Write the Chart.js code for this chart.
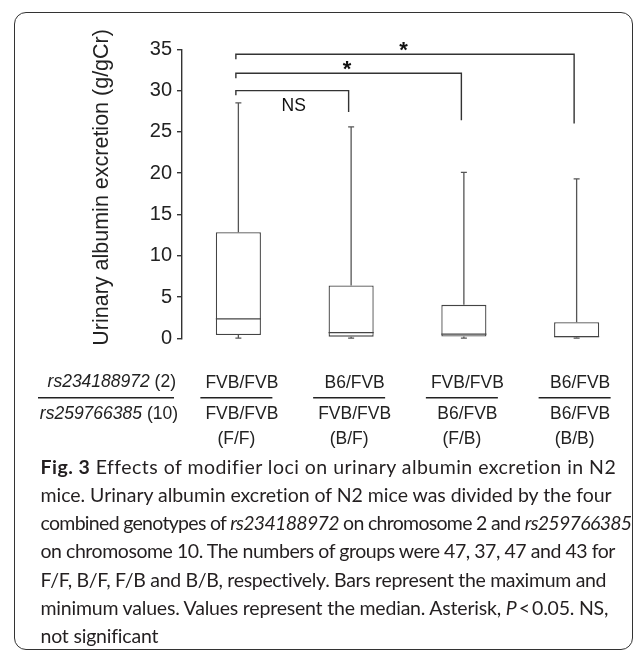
<!DOCTYPE html>
<html><head><meta charset="utf-8">
<script src="https://cdn.jsdelivr.net/npm/chart.js@4"></script>
<style>
html,body{margin:0;padding:0;background:#fff;width:633px;height:651px;overflow:hidden;}
#frame{position:absolute;left:14px;top:12px;width:619px;height:638px;border:1.5px solid #333;border-radius:12px;box-sizing:border-box;}
#c{position:absolute;left:0;top:0;}
#caption{position:absolute;left:40.5px;top:452.5px;font-family:Lato,"Open Sans",sans-serif;color:#231f20;line-height:28.3px;white-space:nowrap;font-size:19.5px;}
#caption div span{display:inline-block;}
</style></head><body>
<div id="frame"></div>
<canvas id="c" width="633" height="460"></canvas>
<div id="caption">
<div><span><b>Fig. 3</b> Effects of modifier loci on urinary albumin excretion in N2</span></div>
<div><span>mice. Urinary albumin excretion of N2 mice was divided by the four</span></div>
<div><span>combined genotypes of <i>rs234188972</i> on chromosome 2 and <i>rs259766385</i></span></div>
<div><span>on chromosome 10. The numbers of groups were 47, 37, 47 and 43 for</span></div>
<div><span>F/F, B/F, F/B and B/B, respectively. Bars represent the maximum and</span></div>
<div><span>minimum values. Values represent the median. Asterisk, <i>P</i>&thinsp;&lt;&thinsp;0.05. NS,</span></div>
<div><span>not significant</span></div>
</div>
<script>
// ---- data ----
const categories = ['F/F', 'B/F', 'F/B', 'B/B'];
const row1Labels = ['FVB/FVB', 'B6/FVB', 'FVB/FVB', 'B6/FVB'];
const row2Labels = ['FVB/FVB', 'FVB/FVB', 'B6/FVB', 'B6/FVB'];
const row3Labels = ['(F/F)', '(B/F)', '(F/B)', '(B/B)'];
const maxValues = [28.5, 25.6, 20.1, 19.3];
const q3Values = [12.85, 6.4, 4.05, 1.95];
const medianValues = [2.35, 0.68, 0.5, 0.2];
const q1Values = [0.4, 0.2, 0.22, 0.12];
const minValues = [0.03, 0.02, 0.02, 0.02];
const yTicks = [0, 5, 10, 15, 20, 25, 30, 35];
const bracketTo = [1, 2, 3];
const bracketLevel = [30, 32.1, 34.4];
const bracketLeftDrop = [29.45, 31.5, 33.8];
const bracketRightDrop = [27.4, 26.4, 26.0];
const bracketText = ['NS', '*', '*'];
const rowName1 = ['rs234188972', ' (2)'];
const rowName2 = ['rs259766385', ' (10)'];
const yTitle = 'Urinary albumin excretion (g/gCr)';

const FONT = '"Liberation Sans", Arial, Helvetica, sans-serif';
const INK = '#222';

const boxPlugin = {
  id: 'boxExtras',
  afterDatasetsDraw(chart) {
    const {ctx, scales: {x, y}} = chart;
    ctx.save();
    ctx.lineWidth = 1.3;
    const meta = chart.getDatasetMeta(0);
    categories.forEach((c, i) => {
      const cx = x.getPixelForValue(i);
      const half = meta.data[i].width / 2;
      ctx.strokeStyle = '#444';
      ctx.beginPath();
      ctx.moveTo(cx - half, y.getPixelForValue(medianValues[i]));
      ctx.lineTo(cx + half, y.getPixelForValue(medianValues[i]));
      ctx.stroke();
      ctx.strokeStyle = '#555';
      ctx.beginPath();
      ctx.moveTo(cx, y.getPixelForValue(q3Values[i]));
      ctx.lineTo(cx, y.getPixelForValue(maxValues[i]));
      ctx.moveTo(cx - 3, y.getPixelForValue(maxValues[i]));
      ctx.lineTo(cx + 3, y.getPixelForValue(maxValues[i]));
      ctx.moveTo(cx, y.getPixelForValue(q1Values[i]));
      ctx.lineTo(cx, y.getPixelForValue(minValues[i]));
      ctx.moveTo(cx - 3, y.getPixelForValue(minValues[i]));
      ctx.lineTo(cx + 3, y.getPixelForValue(minValues[i]));
      ctx.stroke();
    });
    ctx.restore();
  },
  afterDraw(chart) {
    const {ctx, scales: {x, y}} = chart;
    ctx.save();
    ctx.strokeStyle = '#333';
    ctx.lineWidth = 1.4;
    const x0 = x.getPixelForValue(0) - 2.5;
    bracketTo.forEach((to, k) => {
      const x1 = x.getPixelForValue(to) - 2.5;
      const yl = y.getPixelForValue(bracketLevel[k]);
      ctx.beginPath();
      ctx.moveTo(x0, y.getPixelForValue(bracketLeftDrop[k]));
      ctx.lineTo(x0, yl);
      ctx.lineTo(x1, yl);
      ctx.lineTo(x1, y.getPixelForValue(bracketRightDrop[k]));
      ctx.stroke();
      const mx = (x0 + x1) / 2;
      ctx.fillStyle = '#111';
      ctx.textAlign = 'center';
      if (bracketText[k] === 'NS') {
        ctx.font = '17.5px ' + FONT;
        ctx.textBaseline = 'middle';
        ctx.fillText(bracketText[k], mx + 1.5, yl + 16);
      } else {
        ctx.font = 'bold 22px ' + FONT;
        ctx.textBaseline = 'alphabetic';
        ctx.fillText(bracketText[k], mx - 1.5, yl - 10 + 0.6 * 22);
      }
    });
    ctx.fillStyle = INK;
    ctx.strokeStyle = '#222';
    ctx.lineWidth = 1.5;
    ctx.font = '17.5px ' + FONT;
    ctx.textBaseline = 'middle';
    ctx.textAlign = 'center';
    categories.forEach((c, i) => {
      const cx = x.getPixelForValue(i);
      ctx.fillText(row1Labels[i], cx + 3.5, 383);
      ctx.fillText(row2Labels[i], cx + 3.5, 414.5);
      ctx.fillText(row3Labels[i], cx - 2, 439.5);
      ctx.beginPath();
      ctx.moveTo(cx - 2 - 36, 397.7);
      ctx.lineTo(cx - 2 + 36, 397.7);
      ctx.stroke();
    });
    const drawRow = (parts, right, yy) => {
      ctx.textAlign = 'left';
      ctx.font = '17.5px ' + FONT;
      const w2 = ctx.measureText(parts[1]).width;
      ctx.font = 'italic 17.5px ' + FONT;
      const w1 = ctx.measureText(parts[0]).width;
      const start = right - w1 - w2;
      ctx.fillText(parts[0], start, yy);
      ctx.font = '17.5px ' + FONT;
      ctx.fillText(parts[1], start + w1, yy);
    };
    drawRow(rowName1, 176, 382);
    drawRow(rowName2, 178, 414.5);
    ctx.beginPath();
    ctx.moveTo(38, 397.7);
    ctx.lineTo(174, 397.7);
    ctx.stroke();
    ctx.save();
    ctx.translate(101.7, 187.4);
    ctx.rotate(-Math.PI / 2);
    ctx.font = '21.5px ' + FONT;
    ctx.textAlign = 'center';
    ctx.textBaseline = 'middle';
    ctx.fillText(yTitle, 0, 0);
    ctx.restore();
    ctx.restore();
  }
};

new Chart(document.getElementById('c'), {
  type: 'bar',
  data: {
    labels: categories,
    datasets: [{
      data: categories.map((c, i) => [q1Values[i], q3Values[i]]),
      backgroundColor: '#fff',
      borderColor: '#444',
      borderWidth: 1.3,
      borderSkipped: false,
      barPercentage: 0.4,
      categoryPercentage: 1
    }]
  },
  options: {
    responsive: false,
    animation: false,
    devicePixelRatio: 1,
    layout: {padding: {top: 49.3, bottom: 121.7, left: 0, right: 0}},
    plugins: {legend: {display: false}, tooltip: {enabled: false}},
    scales: {
      x: {display: false},
      y: {
        min: 0, max: 35,
        afterBuildTicks: (s) => { s.ticks = yTicks.map(v => ({value: v})); },
        afterFit: (s) => { s.width = 182; },
        grid: {drawOnChartArea: false, tickLength: 5, color: '#333', lineWidth: 1.4},
        border: {color: '#333', width: 1.4},
        ticks: {font: {size: 20, family: FONT}, color: INK, padding: 5}
      }
    }
  },
  plugins: [boxPlugin]
});

function fitCaption() {
  const spans = document.querySelectorAll('#caption div span');
  spans.forEach(s => { s.style.letterSpacing = '0px'; });
  const lineTargets = {0: 575, 1: 571.5, 2: 591, 3: 574.5, 4: 566};
  let sum = 0, n = 0;
  for (const k in lineTargets) {
    const s = spans[k];
    const w = s.getBoundingClientRect().width;
    const ls = (lineTargets[k] - w) / s.textContent.length;
    s.style.letterSpacing = ls.toFixed(3) + 'px';
    sum += ls; n++;
  }
  const avg = sum / n;
  [5, 6].forEach(k => { spans[k].style.letterSpacing = avg.toFixed(3) + 'px'; });
}
fitCaption();
if (document.fonts && document.fonts.ready) document.fonts.ready.then(fitCaption);
</script>
</body></html>
